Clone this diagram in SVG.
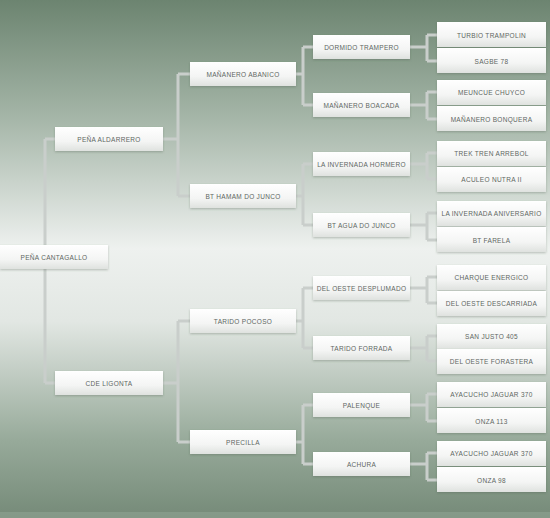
<svg xmlns="http://www.w3.org/2000/svg" width="550" height="518" viewBox="0 0 550 518">
<defs>
<linearGradient id="bg" x1="0" y1="0" x2="0" y2="1">
<stop offset="0" stop-color="#6c8470"/>
<stop offset="0.22" stop-color="#a3b4a6"/>
<stop offset="0.48" stop-color="#eef1ef"/>
<stop offset="0.62" stop-color="#e2e7e3"/>
<stop offset="0.85" stop-color="#97aa9a"/>
<stop offset="1" stop-color="#758a78"/>
</linearGradient>
<linearGradient id="box" x1="0" y1="0" x2="0" y2="1">
<stop offset="0" stop-color="#ffffff"/>
<stop offset="0.6" stop-color="#f4f5f4"/>
<stop offset="1" stop-color="#dfe2df"/>
</linearGradient>
<filter id="sh" x="-10%" y="-20%" width="120%" height="160%">
<feDropShadow dx="0" dy="1" stdDeviation="1" flood-color="#4a5a4c" flood-opacity="0.35"/>
</filter>
</defs>
<style>
.n rect{fill:url(#box);filter:url(#sh)}
.n text{font-family:"Liberation Sans",Arial,sans-serif;font-size:6.5px;fill:#606662;text-anchor:middle;dominant-baseline:central;letter-spacing:0.3px}
.c path{fill:none;stroke:#c9cecb;stroke-width:3;stroke-linejoin:miter}
</style>
<rect width="550" height="518" fill="url(#bg)"/>
<rect y="512" width="550" height="6" fill="#8fa392" opacity="0.6"/>
<g class="c" id="connectors">
<path d="M0 257 H45 M45 139 V383 M45 139 H55 M45 383 H55"/>
<path d="M163 139 H178 M178 74 V196 M178 74 H190 M178 196 H190"/>
<path d="M163 383 H178 M178 321 V442 M178 321 H190 M178 442 H190"/>
<path d="M296 74 H303 M303 47 V105 M303 47 H313 M303 105 H313"/>
<path d="M296 196 H303 M303 164 V225 M303 164 H313 M303 225 H313"/>
<path d="M296 321 H303 M303 288 V348 M303 288 H313 M303 348 H313"/>
<path d="M296 442 H303 M303 405 V464 M303 405 H313 M303 464 H313"/>
<path d="M410 47 H427 M427 35 V61 M427 35 H437 M427 61 H437"/>
<path d="M410 105 H427 M427 92 V119 M427 92 H437 M427 119 H437"/>
<path d="M410 164 H427 M427 153 V179 M427 153 H437 M427 179 H437"/>
<path d="M410 225 H427 M427 213 V240 M427 213 H437 M427 240 H437"/>
<path d="M410 288 H427 M427 277 V303 M427 277 H437 M427 303 H437"/>
<path d="M410 348 H427 M427 336 V361 M427 336 H437 M427 361 H437"/>
<path d="M410 405 H427 M427 394 V421 M427 394 H437 M427 421 H437"/>
<path d="M410 464 H427 M427 453 V480 M427 453 H437 M427 480 H437"/>
</g>
<g class="n" id="n-root"><rect x="0" y="245" width="108" height="24"/><text x="54" y="257">PEÑA CANTAGALLO</text></g>
<g class="n" id="n-a"><rect x="55" y="127" width="108" height="24"/><text x="109" y="139">PEÑA ALDARRERO</text></g>
<g class="n" id="n-b"><rect x="55" y="371" width="108" height="24"/><text x="109" y="383">CDE LIGONTA</text></g>
<g class="n" id="n-aa"><rect x="190" y="62" width="106" height="24"/><text x="243" y="74">MAÑANERO ABANICO</text></g>
<g class="n" id="n-ab"><rect x="190" y="184" width="106" height="24"/><text x="243" y="196">BT HAMAM DO JUNCO</text></g>
<g class="n" id="n-ba"><rect x="190" y="309" width="106" height="24"/><text x="243" y="321">TARIDO POCOSO</text></g>
<g class="n" id="n-bb"><rect x="190" y="430" width="106" height="24"/><text x="243" y="442">PRECILLA</text></g>
<g class="n" id="n-aaa"><rect x="313" y="35" width="97" height="24"/><text x="361.5" y="47">DORMIDO TRAMPERO</text></g>
<g class="n" id="n-aab"><rect x="313" y="93" width="97" height="24"/><text x="361.5" y="105">MAÑANERO BOACADA</text></g>
<g class="n" id="n-aba"><rect x="313" y="152" width="97" height="24"/><text x="361.5" y="164">LA INVERNADA HORMERO</text></g>
<g class="n" id="n-abb"><rect x="313" y="213" width="97" height="24"/><text x="361.5" y="225">BT AGUA DO JUNCO</text></g>
<g class="n" id="n-baa"><rect x="313" y="276" width="97" height="24"/><text x="361.5" y="288">DEL OESTE DESPLUMADO</text></g>
<g class="n" id="n-bab"><rect x="313" y="336" width="97" height="24"/><text x="361.5" y="348">TARIDO FORRADA</text></g>
<g class="n" id="n-bba"><rect x="313" y="393" width="97" height="24"/><text x="361.5" y="405">PALENQUE</text></g>
<g class="n" id="n-bbb"><rect x="313" y="452" width="97" height="24"/><text x="361.5" y="464">ACHURA</text></g>
<g class="n" id="l1"><rect x="437" y="22" width="109" height="25"/><text x="491.5" y="35">TURBIO TRAMPOLIN</text></g>
<g class="n" id="l2"><rect x="437" y="48" width="109" height="25"/><text x="491.5" y="61">SAGBE 78</text></g>
<g class="n" id="l3"><rect x="437" y="80" width="109" height="25"/><text x="491.5" y="92">MEUNCUE CHUYCO</text></g>
<g class="n" id="l4"><rect x="437" y="106" width="109" height="25"/><text x="491.5" y="119">MAÑANERO BONQUERA</text></g>
<g class="n" id="l5"><rect x="437" y="141" width="109" height="25"/><text x="491.5" y="153">TREK TREN ARREBOL</text></g>
<g class="n" id="l6"><rect x="437" y="167" width="109" height="25"/><text x="491.5" y="179">ACULEO NUTRA II</text></g>
<g class="n" id="l7"><rect x="437" y="201" width="109" height="25"/><text x="491.5" y="213">LA INVERNADA ANIVERSARIO</text></g>
<g class="n" id="l8"><rect x="437" y="227" width="109" height="25"/><text x="491.5" y="240">BT FARELA</text></g>
<g class="n" id="l9"><rect x="437" y="265" width="109" height="25"/><text x="491.5" y="277">CHARQUE ENERGICO</text></g>
<g class="n" id="l10"><rect x="437" y="291" width="109" height="25"/><text x="491.5" y="303">DEL OESTE DESCARRIADA</text></g>
<g class="n" id="l11"><rect x="437" y="324" width="109" height="25"/><text x="491.5" y="336">SAN JUSTO 405</text></g>
<g class="n" id="l12"><rect x="437" y="349" width="109" height="25"/><text x="491.5" y="361">DEL OESTE FORASTERA</text></g>
<g class="n" id="l13"><rect x="437" y="382" width="109" height="25"/><text x="491.5" y="394">AYACUCHO JAGUAR 370</text></g>
<g class="n" id="l14"><rect x="437" y="408" width="109" height="25"/><text x="491.5" y="421">ONZA 113</text></g>
<g class="n" id="l15"><rect x="437" y="441" width="109" height="25"/><text x="491.5" y="453">AYACUCHO JAGUAR 370</text></g>
<g class="n" id="l16"><rect x="437" y="467" width="109" height="25"/><text x="491.5" y="480">ONZA 98</text></g>
</svg>
